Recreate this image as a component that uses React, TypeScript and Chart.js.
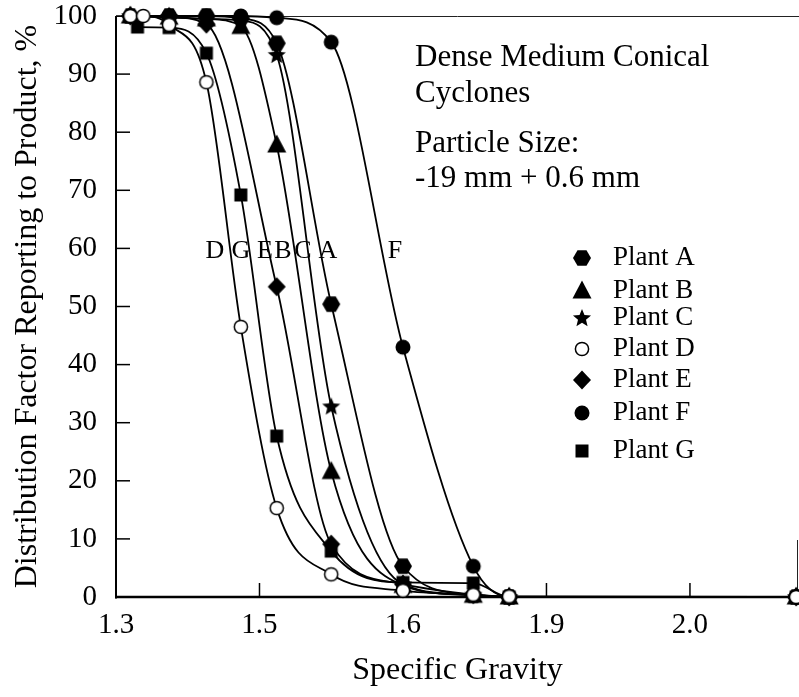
import React, { useEffect, useRef } from "react";
import { Chart, registerables } from "chart.js";

Chart.register(...registerables);

// ---- axis ticks ----
const xTickValues = [1.3, 1.4, 1.5, 1.6, 1.7];
const xTickLabels = ["1.3", "1.5", "1.6", "1.9", "2.0"];
const yTickValues = [0, 10, 20, 30, 40, 50, 60, 70, 80, 90, 100];

// ---- series (x in axis units, y = distribution factor %) ----
const plantA_x = [1.31, 1.337, 1.363, 1.387, 1.412, 1.45, 1.5, 1.549, 1.574, 1.774];
const plantA_y = [100, 100, 100, 99.6, 95.3, 50.4, 5.3, 0.3, 0, 0];

const plantB_x = [1.31, 1.337, 1.363, 1.387, 1.412, 1.45, 1.5, 1.549, 1.574, 1.774];
const plantB_y = [100, 99.8, 99.5, 98.2, 77.8, 21.6, 2.0, 0.3, 0, 0];

const plantC_x = [1.31, 1.337, 1.363, 1.387, 1.412, 1.45, 1.5, 1.549, 1.574, 1.774];
const plantC_y = [100, 99.8, 99.5, 99.2, 93.3, 32.8, 2.2, 0.4, 0, 0];

const plantD_x = [1.31, 1.319, 1.337, 1.363, 1.387, 1.412, 1.45, 1.5, 1.549, 1.574, 1.774];
const plantD_y = [100, 100, 98.5, 88.6, 46.5, 15.3, 3.9, 1.1, 0.4, 0.1, 0];

const plantE_x = [1.31, 1.337, 1.363, 1.412, 1.45, 1.5, 1.549, 1.574, 1.774];
const plantE_y = [100, 99.8, 98.6, 53.4, 9.1, 2.2, 0.4, 0, 0];

const plantF_x = [1.337, 1.363, 1.387, 1.412, 1.45, 1.5, 1.549, 1.574, 1.774];
const plantF_y = [100, 100, 100, 99.7, 95.5, 43, 5.3, 0, 0];

const plantG_x = [1.315, 1.337, 1.363, 1.387, 1.412, 1.45, 1.5, 1.549, 1.574, 1.774];
const plantG_y = [98.1, 98, 93.6, 69.2, 27.7, 7.9, 2.5, 2.4, 0, 0];

const plantNames = ["Plant A", "Plant B", "Plant C", "Plant D", "Plant E", "Plant F", "Plant G"];
const plantMarkers = ["hexagon", "triangle", "star", "openCircle", "diamond", "circle", "square"];

const curveLetters = ["D", "G", "E", "B", "C", "A", "F"];

const noteLines = ["Dense Medium Conical", "Cyclones", "Particle Size:", "-19 mm + 0.6 mm"];

const xTitle = "Specific Gravity";
const yTitle = "Distribution Factor Reporting to Product, %";

const FONT = '"Liberation Serif", "Times New Roman", Times, serif';

function makeMarker(kind: string): HTMLCanvasElement {
  const S = 24;
  const c = document.createElement("canvas");
  c.width = S;
  c.height = S;
  const g = c.getContext("2d")!;
  const cx = S / 2;
  const cy = S / 2;
  g.fillStyle = "#000";
  g.strokeStyle = "#000";
  g.lineWidth = 1.5;
  g.beginPath();
  if (kind === "hexagon") {
    const r = 9;
    for (let i = 0; i < 6; i++) {
      const a = (i * Math.PI) / 3;
      const px = cx + r * Math.cos(a);
      const py = cy + r * Math.sin(a);
      if (i === 0) g.moveTo(px, py);
      else g.lineTo(px, py);
    }
    g.closePath();
    g.fill();
  } else if (kind === "triangle") {
    g.moveTo(cx, cy - 10.5);
    g.lineTo(cx + 9.5, cy + 7.5);
    g.lineTo(cx - 9.5, cy + 7.5);
    g.closePath();
    g.fill();
  } else if (kind === "star") {
    const ro = 9.5;
    const ri = 4.2;
    for (let i = 0; i < 10; i++) {
      const a = -Math.PI / 2 + (i * Math.PI) / 5;
      const r = i % 2 === 0 ? ro : ri;
      const px = cx + r * Math.cos(a);
      const py = cy + 0.5 + r * Math.sin(a);
      if (i === 0) g.moveTo(px, py);
      else g.lineTo(px, py);
    }
    g.closePath();
    g.fill();
  } else if (kind === "diamond") {
    g.moveTo(cx, cy - 9.5);
    g.lineTo(cx + 9, cy);
    g.lineTo(cx, cy + 9.5);
    g.lineTo(cx - 9, cy);
    g.closePath();
    g.fill();
  } else if (kind === "square") {
    g.rect(cx - 6.5, cy - 6.5, 13, 13);
    g.fill();
  } else if (kind === "circle") {
    g.arc(cx, cy, 7.5, 0, Math.PI * 2);
    g.fill();
  } else if (kind === "openCircle") {
    g.arc(cx, cy, 6.6, 0, Math.PI * 2);
    g.fillStyle = "#fff";
    g.fill();
    g.stroke();
  }
  return c;
}

export default function App() {
  const ref = useRef<HTMLCanvasElement>(null);

  useEffect(() => {
    const canvas = ref.current!;
    const markerImgs: Record<string, HTMLCanvasElement> = {};
    plantMarkers.forEach((k) => (markerImgs[k] = makeMarker(k)));

    const series = [
      [plantA_x, plantA_y],
      [plantB_x, plantB_y],
      [plantC_x, plantC_y],
      [plantD_x, plantD_y],
      [plantE_x, plantE_y],
      [plantF_x, plantF_y],
      [plantG_x, plantG_y],
    ];

    const datasets = series.map(([xs, ys], i) => ({
      label: plantNames[i],
      data: xs.map((x, j) => ({ x, y: ys[j] })),
      borderColor: "#000",
      borderWidth: 1.8,
      backgroundColor: "#000",
      pointStyle: markerImgs[plantMarkers[i]] as any,
      pointRadius: 9,
      cubicInterpolationMode: "monotone" as const,
      clip: false as any,
      order: plantMarkers[i] === "openCircle" ? -1 : i,
    }));

    const decorPlugin = {
      id: "decor",
      beforeDatasetsDraw(chart: any) {
        const { ctx, chartArea: a, scales } = chart;
        ctx.save();
        // top frame line
        ctx.strokeStyle = "#222";
        ctx.lineWidth = 1;
        ctx.beginPath();
        ctx.moveTo(a.left, Math.round(a.top) + 0.5);
        ctx.lineTo(799, Math.round(a.top) + 0.5);
        ctx.stroke();
        // right partial frame
        ctx.beginPath();
        ctx.moveTo(797.5, 540);
        ctx.lineTo(797.5, a.bottom);
        ctx.stroke();
        // left axis
        ctx.strokeStyle = "#000";
        ctx.lineWidth = 2;
        ctx.beginPath();
        ctx.moveTo(a.left, a.top);
        ctx.lineTo(a.left, a.bottom + 1.5);
        ctx.stroke();
        // bottom axis
        ctx.lineWidth = 2.5;
        ctx.beginPath();
        ctx.moveTo(a.left - 1, a.bottom);
        ctx.lineTo(799, a.bottom);
        ctx.stroke();
        // inward ticks
        ctx.lineWidth = 1.5;
        yTickValues.forEach((v) => {
          if (v === 0) return;
          const py = scales.y.getPixelForValue(v);
          ctx.beginPath();
          ctx.moveTo(a.left, py);
          ctx.lineTo(a.left + 14, py);
          ctx.stroke();
        });
        xTickValues.forEach((v, i) => {
          if (i === 0) return;
          const px = scales.x.getPixelForValue(v);
          ctx.beginPath();
          ctx.moveTo(px, a.bottom);
          ctx.lineTo(px, a.bottom - 14);
          ctx.stroke();
        });
        ctx.restore();
      },
      afterDraw(chart: any) {
        const { ctx } = chart;
        ctx.save();
        ctx.fillStyle = "#000";
        // notes
        ctx.font = `31px ${FONT}`;
        ctx.textAlign = "left";
        ctx.textBaseline = "alphabetic";
        const noteY = [66, 102, 152, 187];
        noteLines.forEach((t, i) => ctx.fillText(t, 415, noteY[i]));
        // curve letters
        ctx.font = `26px ${FONT}`;
        ctx.textAlign = "center";
        const letterX = [215, 241, 265, 283, 303, 328, 395];
        curveLetters.forEach((t, i) => ctx.fillText(t, letterX[i], 258));
        // legend
        const legY = [258, 291, 318, 349, 380, 413, 451];
        ctx.font = `27px ${FONT}`;
        ctx.textAlign = "left";
        ctx.textBaseline = "middle";
        plantNames.forEach((name, i) => {
          const img = markerImgs[plantMarkers[i]];
          ctx.drawImage(img, 582 - img.width / 2, legY[i] - img.height / 2);
          ctx.fillText(name, 613, legY[i]);
        });
        ctx.restore();
      },
    };

    const chart = new Chart(canvas, {
      type: "line",
      data: { datasets: datasets as any },
      options: {
        animation: false,
        responsive: false,
        maintainAspectRatio: false,
        layout: { autoPadding: false, padding: { left: 0, right: 0, top: 16, bottom: 0 } },
        plugins: {
          legend: { display: false },
          tooltip: { enabled: false },
        },
        scales: {
          x: {
            type: "linear",
            min: 1.3,
            max: 1.776,
            afterBuildTicks: (s: any) => {
              s.ticks = xTickValues.map((v) => ({ value: v }));
            },
            afterFit: (s: any) => {
              s.height = 100;
              s.paddingLeft = 0;
              s.paddingRight = 0;
            },
            ticks: {
              callback: (_v: any, i: number) => xTickLabels[i],
              color: "#000",
              font: { family: FONT, size: 29 },
              padding: 11,
              maxRotation: 0,
              autoSkip: false,
            },
            grid: { display: false, drawTicks: false },
            border: { display: false },
            title: {
              display: true,
              text: xTitle,
              color: "#000",
              font: { family: FONT, size: 32 },
              padding: { top: 0, bottom: 7 },
            },
          },
          y: {
            type: "linear",
            min: 0,
            max: 100,
            afterBuildTicks: (s: any) => {
              s.ticks = yTickValues.map((v) => ({ value: v }));
            },
            afterFit: (s: any) => {
              s.width = 116;
              s.paddingTop = 0;
              s.paddingBottom = 0;
            },
            ticks: {
              color: "#000",
              font: { family: FONT, size: 29 },
              padding: 19,
            },
            grid: { display: false, drawTicks: false },
            border: { display: false },
            title: {
              display: true,
              text: yTitle,
              color: "#000",
              font: { family: FONT, size: 32 },
              padding: { top: 8, bottom: 0 },
            },
          },
        },
      },
      plugins: [decorPlugin],
    });

    return () => chart.destroy();
  }, []);

  return (
    <div style={{ position: "fixed", left: 0, top: 0, width: 799, height: 697, background: "#fff" }}>
      <canvas ref={ref} width={799} height={697} style={{ display: "block", width: 799, height: 697 }} />
    </div>
  );
}
